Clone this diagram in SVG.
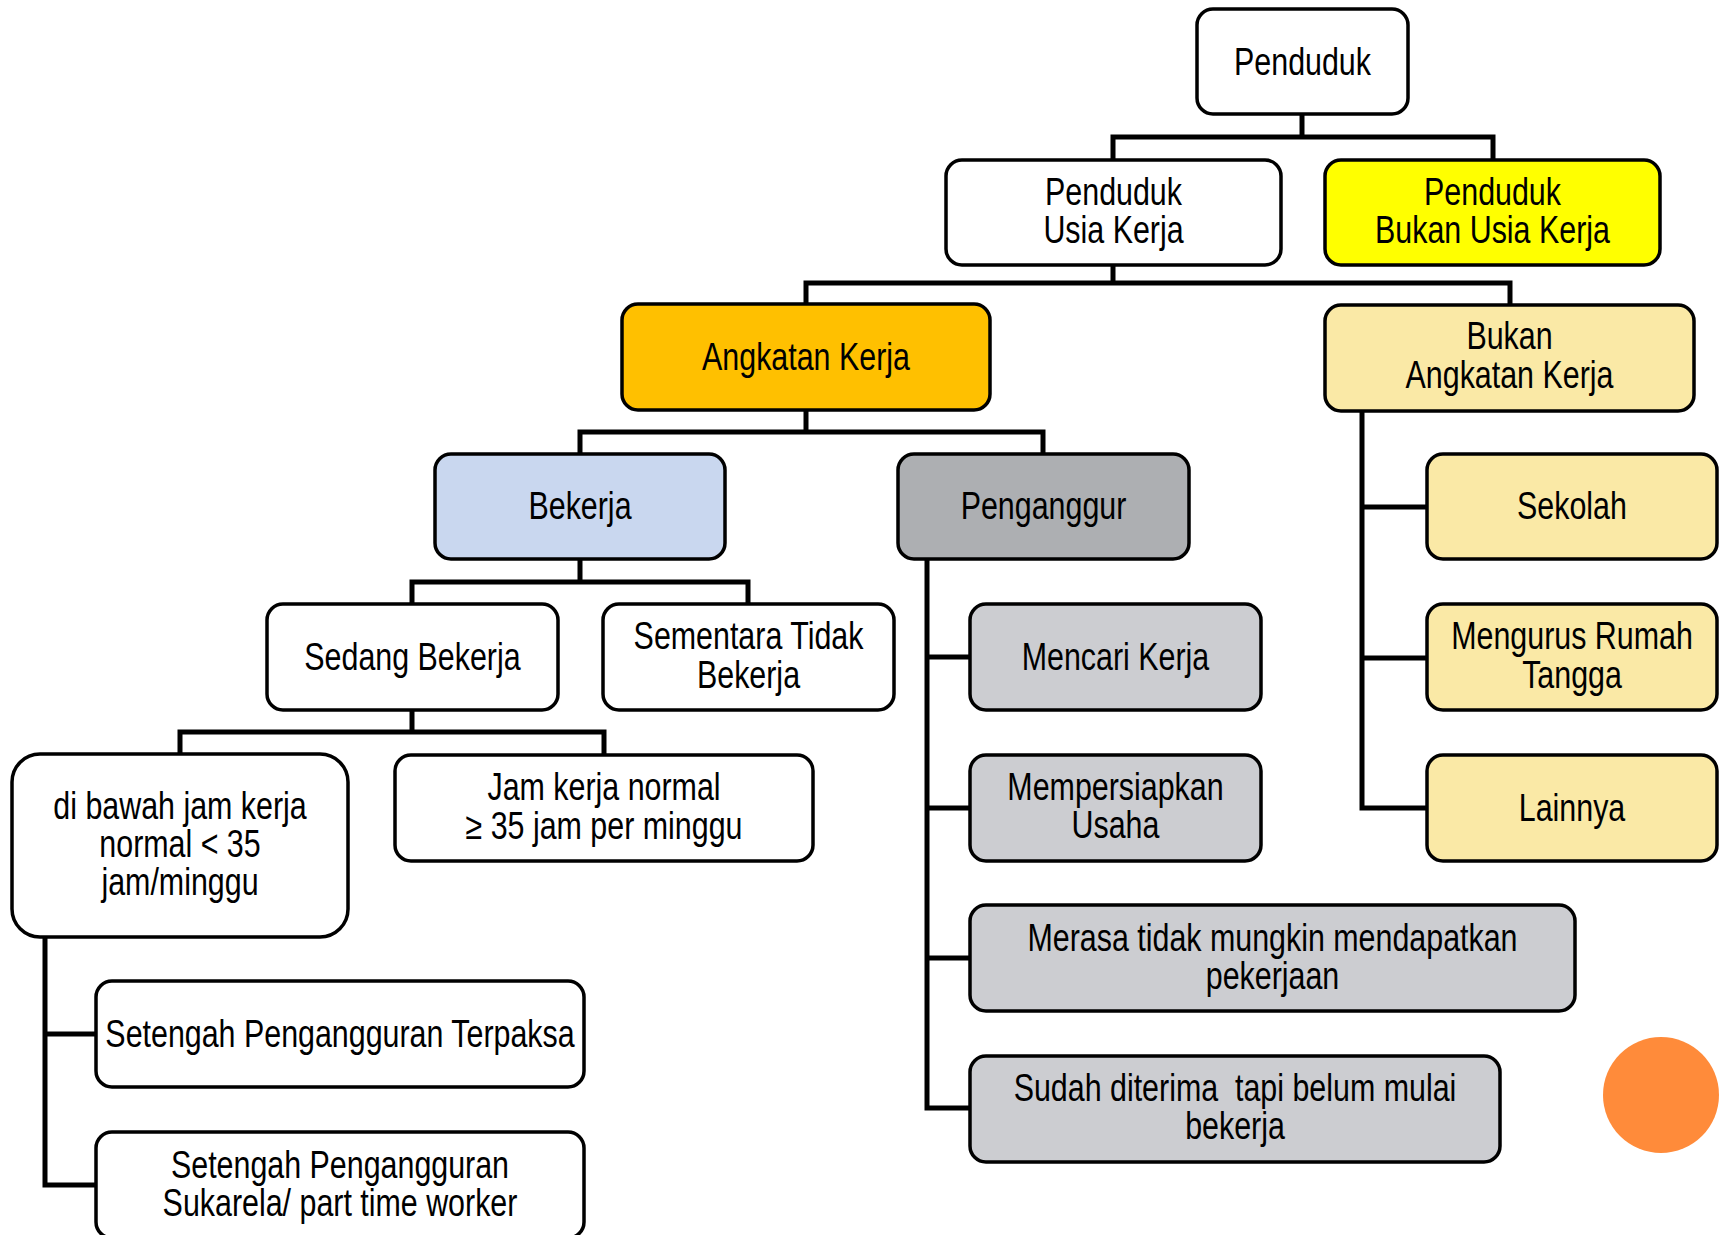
<svg xmlns="http://www.w3.org/2000/svg" width="1726" height="1235" viewBox="0 0 1726 1235">
<style>
.b{stroke:#000;stroke-width:3.5}
.w{fill:#fff}
.y{fill:#ffff00}
.o{fill:#ffc000}
.ly{fill:#fae9a6}
.bl{fill:#c9d7ef}
.dg{fill:#adafb2}
.lg{fill:#cccdd1}
.t{font-family:"Liberation Sans",Arial,sans-serif;font-size:38px;text-anchor:middle;fill:#000;white-space:pre}
.c{fill:none;stroke:#000;stroke-width:5;stroke-linejoin:miter}
</style>
<rect width="1726" height="1235" fill="#fff"/>
<g id="connectors">
<path class="c" d="M1302,114 V137 M1113,160 V137 H1493 V160"/>
<path class="c" d="M1113,265 V283 M806,304 V283 H1510 V305"/>
<path class="c" d="M806,410 V432 M580,454 V432 H1043 V454"/>
<path class="c" d="M580,559 V582 M412,604 V582 H748 V604"/>
<path class="c" d="M412,710 V732 M180,754 V732 H604 V755"/>
<path class="c" d="M45,937 V1185 H96 M45,1034 H96"/>
<path class="c" d="M927,559 V1108 H970 M927,657 H970 M927,808 H970 M927,958 H970"/>
<path class="c" d="M1362,411 V808 H1427 M1362,507 H1427 M1362,658 H1427"/>
</g>
<g id="penduduk"><rect class="b w" x="1197" y="9" width="211" height="105" rx="16"/><text class="t" transform="translate(1302.5,0) scale(0.8,1)"><tspan x="0" y="75">Penduduk</tspan></text></g>
<g id="usia-kerja"><rect class="b w" x="946" y="160" width="335" height="105" rx="16"/><text class="t" transform="translate(1113.5,0) scale(0.8,1)"><tspan x="0" y="205">Penduduk</tspan><tspan x="0" y="243">Usia Kerja</tspan></text></g>
<g id="bukan-usia-kerja"><rect class="b y" x="1325" y="160" width="335" height="105" rx="16"/><text class="t" transform="translate(1492.5,0) scale(0.8,1)"><tspan x="0" y="205">Penduduk</tspan><tspan x="0" y="243">Bukan Usia Kerja</tspan></text></g>
<g id="angkatan-kerja"><rect class="b o" x="622" y="304" width="368" height="106" rx="16"/><text class="t" transform="translate(806,0) scale(0.8,1)"><tspan x="0" y="370">Angkatan Kerja</tspan></text></g>
<g id="bukan-angkatan-kerja"><rect class="b ly" x="1325" y="305" width="369" height="106" rx="16"/><text class="t" transform="translate(1509.5,0) scale(0.8,1)"><tspan x="0" y="349">Bukan</tspan><tspan x="0" y="388">Angkatan Kerja</tspan></text></g>
<g id="bekerja"><rect class="b bl" x="435" y="454" width="290" height="105" rx="16"/><text class="t" transform="translate(580,0) scale(0.8,1)"><tspan x="0" y="519">Bekerja</tspan></text></g>
<g id="penganggur"><rect class="b dg" x="898" y="454" width="291" height="105" rx="16"/><text class="t" transform="translate(1043.5,0) scale(0.8,1)"><tspan x="0" y="519">Penganggur</tspan></text></g>
<g id="sekolah"><rect class="b ly" x="1427" y="454" width="290" height="105" rx="16"/><text class="t" transform="translate(1572,0) scale(0.8,1)"><tspan x="0" y="519">Sekolah</tspan></text></g>
<g id="mengurus"><rect class="b ly" x="1427" y="604" width="290" height="106" rx="16"/><text class="t" transform="translate(1572,0) scale(0.8,1)"><tspan x="0" y="649">Mengurus Rumah</tspan><tspan x="0" y="688">Tangga</tspan></text></g>
<g id="lainnya"><rect class="b ly" x="1427" y="755" width="290" height="106" rx="16"/><text class="t" transform="translate(1572,0) scale(0.8,1)"><tspan x="0" y="821">Lainnya</tspan></text></g>
<g id="sedang-bekerja"><rect class="b w" x="267" y="604" width="291" height="106" rx="16"/><text class="t" transform="translate(412.5,0) scale(0.8,1)"><tspan x="0" y="670">Sedang Bekerja</tspan></text></g>
<g id="sementara"><rect class="b w" x="603" y="604" width="291" height="106" rx="16"/><text class="t" transform="translate(748.5,0) scale(0.8,1)"><tspan x="0" y="649">Sementara Tidak</tspan><tspan x="0" y="688">Bekerja</tspan></text></g>
<g id="mencari"><rect class="b lg" x="970" y="604" width="291" height="106" rx="16"/><text class="t" transform="translate(1115.5,0) scale(0.8,1)"><tspan x="0" y="670">Mencari Kerja</tspan></text></g>
<g id="mempersiapkan"><rect class="b lg" x="970" y="755" width="291" height="106" rx="16"/><text class="t" transform="translate(1115.5,0) scale(0.8,1)"><tspan x="0" y="800">Mempersiapkan</tspan><tspan x="0" y="838">Usaha</tspan></text></g>
<g id="merasa"><rect class="b lg" x="970" y="905" width="605" height="106" rx="16"/><text class="t" transform="translate(1272.5,0) scale(0.8,1)"><tspan x="0" y="951">Merasa tidak mungkin mendapatkan</tspan><tspan x="0" y="989">pekerjaan</tspan></text></g>
<g id="sudah"><rect class="b lg" x="970" y="1056" width="530" height="106" rx="16"/><text class="t" transform="translate(1235,0) scale(0.8,1)"><tspan x="0" y="1101">Sudah diterima  tapi belum mulai</tspan><tspan x="0" y="1139">bekerja</tspan></text></g>
<g id="di-bawah"><rect class="b w" x="12" y="754" width="336" height="183" rx="28"/><text class="t" transform="translate(180,0) scale(0.8,1)"><tspan x="0" y="819">di bawah jam kerja</tspan><tspan x="0" y="857">normal &lt; 35</tspan><tspan x="0" y="895">jam/minggu</tspan></text></g>
<g id="jam-normal"><rect class="b w" x="395" y="755" width="418" height="106" rx="16"/><text class="t" transform="translate(604,0) scale(0.8,1)"><tspan x="0" y="800">Jam kerja normal</tspan><tspan x="0" y="839">≥ 35 jam per minggu</tspan></text></g>
<g id="terpaksa"><rect class="b w" x="96" y="981" width="488" height="106" rx="16"/><text class="t" transform="translate(340,0) scale(0.8,1)"><tspan x="0" y="1047">Setengah Pengangguran Terpaksa</tspan></text></g>
<g id="sukarela"><rect class="b w" x="96" y="1132" width="488" height="106" rx="16"/><text class="t" transform="translate(340,0) scale(0.8,1)"><tspan x="0" y="1178">Setengah Pengangguran</tspan><tspan x="0" y="1216">Sukarela/ part time worker</tspan></text></g>
<circle id="dot" cx="1661" cy="1095" r="58" fill="#ff8b3a"/>
</svg>
